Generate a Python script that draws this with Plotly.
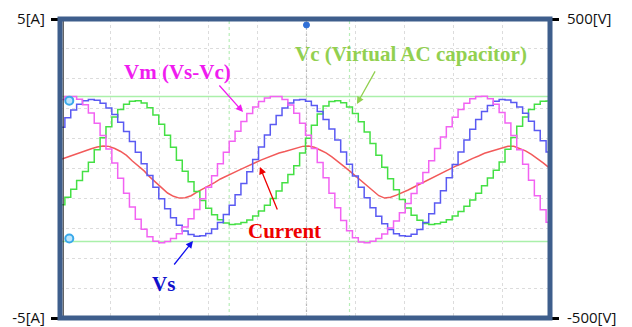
import numpy as np
import plotly.graph_objects as go

# ---------------- data ----------------
sample_step_ms = 0.6

vm_v = [231, 241, 241, 232, 213, 186, 151, 110, 65, 18,
        -33, -83, -129, -170, -203, -228, -243, -248, -244, -234,
        -218, -196, -168, -137, -101, -63, -24, 16, 54, 91,
        125, 157, 184, 206, 224, 236, 241, 241, 231, 212,
        185, 151, 111, 67, 20, -31, -83, -131, -174, -208,
        -232, -246, -248, -243, -234, -219, -199, -176, -148, -117,
        -84, -49, -13, 26, 67, 105, 140, 171, 197, 218,
        233, 241, 242, 233, 215, 187, 152, 110, 63, 14,
        -39, -91, -138, -180]

vs_v = [138, 170, 196, 215, 227, 231, 228, 218, 202, 181,
        155, 124, 90, 54, 16, -23, -63, -101, -135, -165,
        -190, -209, -221, -227, -225, -217, -202, -181, -154, -123,
        -88, -50, -11, 30, 72, 112, 147, 177, 202, 219,
        229, 231, 225, 211, 191, 164, 132, 95, 55, 14,
        -25, -63, -98, -131, -160, -185, -204, -218, -225, -227,
        -220, -204, -181, -151, -115, -74, -31, 13, 55, 95,
        131, 164, 191, 211, 225, 231, 229, 221, 206, 185,
        158, 127, 93, 55]

vc_v = [-121, -96, -69, -40, -10, 21, 63, 103, 140, 172,
        197, 215, 225, 227, 219, 203, 179, 148, 111, 71,
        28, -9, -44, -77, -107, -133, -155, -171, -182, -187,
        -186, -181, -172, -159, -142, -123, -100, -75, -48, -20,
        9, 52, 101, 145, 182, 209, 224, 227, 220, 206,
        184, 156, 122, 84, 44, 4, -34, -71, -104, -132,
        -156, -173, -184, -187, -185, -180, -171, -159, -144, -126,
        -105, -83, -58, -32, -6, 22, 64, 104, 141, 172,
        197, 215, 225, 226]

current_a = [0.32, 0.39, 0.45, 0.54, 0.59, 0.66, 0.72, 0.75, 0.74, 0.67,
             0.57, 0.44, 0.25, 0.08, -0.08, -0.29, -0.47, -0.66, -0.82, -0.93,
             -0.99, -0.98, -0.91, -0.79, -0.69, -0.59, -0.47, -0.35, -0.25, -0.15,
             -0.07, 0.02, 0.12, 0.20, 0.29, 0.37, 0.44, 0.52, 0.57, 0.62,
             0.69, 0.74, 0.75, 0.71, 0.62, 0.52, 0.39, 0.25, 0.08, -0.08,
             -0.25, -0.42, -0.59, -0.76, -0.91, -0.99, -0.96, -0.89, -0.81, -0.72,
             -0.62, -0.52, -0.42, -0.32, -0.22, -0.12, -0.02, 0.07, 0.15, 0.25,
             0.34, 0.42, 0.51, 0.57, 0.62, 0.69, 0.74, 0.74, 0.67, 0.59,
             0.47, 0.34, 0.19, 0.03]

left_ticks = [-5, 5]
left_labels = ["-5[A]", "5[A]"]
right_ticks = [-500, 500]
right_labels = ["-500[V]", "500[V]"]
cursor_levels_v = [241, -244]
cursor_times_ms = [17.1, 29.4]

t = np.arange(len(vm_v)) * sample_step_ms

# ---------------- figure ----------------
fig = go.Figure()

fig.add_trace(go.Scatter(x=t, y=vc_v, yaxis="y2", mode="lines", line_shape="hvh",
                         line=dict(color="#44e044", width=1.5), name="Vc"))
fig.add_trace(go.Scatter(x=t, y=vs_v, yaxis="y2", mode="lines", line_shape="hvh",
                         line=dict(color="#5a5af2", width=1.5), name="Vs"))
fig.add_trace(go.Scatter(x=t, y=vm_v, yaxis="y2", mode="lines", line_shape="hvh",
                         line=dict(color="#f262f2", width=1.5), name="Vm"))
fig.add_trace(go.Scatter(x=t, y=current_a, yaxis="y", mode="lines",
                         line=dict(color="#f25a5a", width=1.5), name="Current"))

shapes = []
# cursor lines
for lv in cursor_levels_v:
    shapes.append(dict(type="line", xref="paper", x0=0, x1=1, yref="y2", y0=lv, y1=lv,
                       line=dict(color="#aaf0aa", width=1.5), layer="below"))
for tc in cursor_times_ms:
    shapes.append(dict(type="line", xref="x", x0=tc, x1=tc, yref="paper", y0=0, y1=1,
                       line=dict(color="#b8eeb8", width=1.2, dash="dot"), layer="below"))
# center cross lines
shapes.append(dict(type="line", xref="x", x0=25, x1=25, yref="paper", y0=0, y1=1,
                   line=dict(color="#b8b8b8", width=1.2, dash="dot"), layer="below"))
shapes.append(dict(type="line", xref="paper", x0=0, x1=1, yref="y", y0=0, y1=0,
                   line=dict(color="#c4c4c4", width=1.2, dash="dot"), layer="below"))
# channel markers
for yv in [227, -234]:
    shapes.append(dict(type="circle", xref="x", yref="y2", xsizemode="pixel", ysizemode="pixel",
                       xanchor=0.75, yanchor=yv, x0=-4, x1=4, y0=-4, y1=4,
                       fillcolor="#bfe6fb", line=dict(color="#3aa9ea", width=2)))
shapes.append(dict(type="circle", xref="x", yref="paper", xsizemode="pixel", ysizemode="pixel",
                   xanchor=25, yanchor=0.98, x0=-3, x1=3, y0=-3, y1=3,
                   fillcolor="#2f6fd6", line=dict(color="#2f6fd6", width=1)))
# thin dark inner edge on the left border
shapes.append(dict(type="line", xref="paper", yref="paper", x0=0.0065, x1=0.0065, y0=0, y1=1,
                   line=dict(color="#1a1a1a", width=1), layer="above"))
# frame
shapes.append(dict(type="rect", xref="paper", yref="paper", x0=0, x1=1, y0=0, y1=1,
                   line=dict(color="#3e5e8c", width=5), layer="above"))

serif = "Liberation Serif"
annotations = [
    dict(text="<b>Vm (Vs-Vc)</b>", x=0.240, y=0.823, font=dict(family=serif, size=21, color="#f01cf0")),
    dict(text="<b>Vc (Virtual AC capacitor)</b>", x=0.716, y=0.883, font=dict(family=serif, size=21, color="#92d050")),
    dict(text="<b>Current</b>", x=0.458, y=0.291, font=dict(family=serif, size=21, color="#ee0000")),
    dict(text="<b>Vs</b>", x=0.211, y=0.114, font=dict(family=serif, size=21, color="#1010cc")),
]
for a in annotations:
    a.update(xref="paper", yref="paper", showarrow=False, xanchor="center", yanchor="middle")

arrows = [
    (0.3735, 0.689, -25, -28, "#f01cf0"),
    (0.606, 0.716, 19, -34, "#92d050"),
    (0.408, 0.505, 18, 44, "#ee0000"),
    (0.2714, 0.2575, -20, 25, "#1010ee"),
]
for x, y, ax, ay, c in arrows:
    annotations.append(dict(text="", x=x, y=y, xref="paper", yref="paper", ax=ax, ay=ay,
                            showarrow=True, arrowhead=2, arrowsize=1.1, arrowwidth=1.3,
                            arrowcolor=c))

tick_font = dict(family="Open Sans", size=15, color="#111111")

fig.update_layout(
    width=632, height=327,
    margin=dict(l=60, r=82, t=19, b=9, autoexpand=False),
    paper_bgcolor="white", plot_bgcolor="white",
    showlegend=False,
    shapes=shapes, annotations=annotations,
    xaxis=dict(range=[-0.2, 49.9], showticklabels=False, ticks="", zeroline=False,
               showgrid=True, tick0=0, dtick=5, gridcolor="#dcdcdc", griddash="dot", gridwidth=1,
               showline=False, automargin=False),
    yaxis=dict(range=[-5, 5], tickmode="array", tickvals=left_ticks, ticktext=left_labels,
               ticks="outside", ticklen=8, tickwidth=3, tickcolor="black",
               ticklabelstandoff=3, ticklabeloverflow="allow", tickfont=tick_font,
               showgrid=False, zeroline=False, showline=False, automargin=False),
    yaxis2=dict(range=[-500, 500], overlaying="y", side="right", tickmode="array",
                tickvals=right_ticks, ticktext=right_labels, ticks="outside", ticklen=8,
                tickwidth=3, tickcolor="black", ticklabelstandoff=5, ticklabeloverflow="allow",
                tickfont=tick_font, showgrid=False, zeroline=False, showline=False,
                automargin=False),
    yaxis3=dict(range=[-5, 5], overlaying="y", showticklabels=False, ticks="",
                tick0=0, dtick=1, showgrid=True, gridcolor="#dcdcdc", griddash="dot",
                zeroline=False, showline=False, automargin=False),
)
# empty trace to activate the grid axis
fig.add_trace(go.Scatter(x=[None], y=[None], yaxis="y3", showlegend=False, hoverinfo="skip"))

fig.write_html("out.html")
